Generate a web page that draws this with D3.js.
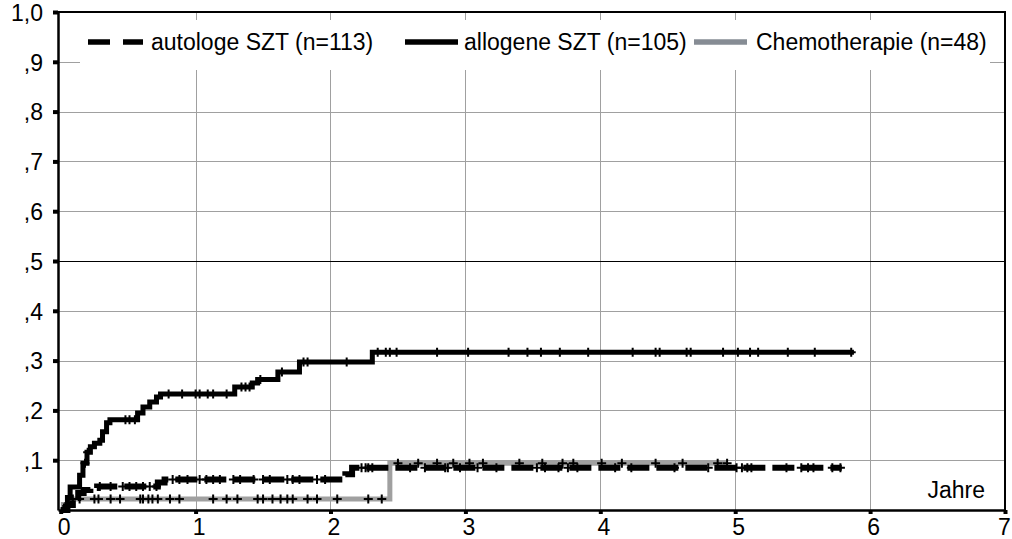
<!DOCTYPE html>
<html>
<head>
<meta charset="utf-8">
<script src="https://cdn.jsdelivr.net/npm/d3@7"></script>
<style>
  html, body { margin: 0; padding: 0; background: #fff; }
  svg { display: block; font-family: "Liberation Sans", Arial, sans-serif; }
</style>
</head>
<body>
<div id="chart"></div>
<script>

/*******************************/
/*          The data           */
/*******************************/
const xTicks = [0, 1, 2, 3, 4, 5, 6, 7];
const yTicks = [0.1, 0.2, 0.3, 0.4, 0.5, 0.6, 0.7, 0.8, 0.9, 1.0];
const yTickLabels = [",1", ",2", ",3", ",4", ",5", ",6", ",7", ",8", ",9", "1,0"];
const xAxisTitle = "Jahre";

// autologe SZT
const autoTimes  = [0, 0.05, 0.09, 0.13, 0.17, 0.22, 0.27, 0.72, 0.77, 2.11, 2.16];
const autoValues = [0, 0.01, 0.024, 0.034, 0.04, 0.044, 0.047, 0.055, 0.061, 0.072, 0.085];
const autoEnd = 5.79;
const autoCensored = [0.29, 0.37, 0.46, 0.51, 0.56, 0.61, 0.66, 0.71,
  0.83, 0.88, 0.94, 1.03, 1.08, 1.13, 1.18, 1.28, 1.33, 1.43, 1.50, 1.55, 1.68, 1.72, 1.77, 1.90, 1.96,
  2.23, 2.26, 2.28, 2.31, 2.59, 2.70, 2.85, 2.87, 2.96, 3.09, 3.23, 3.53, 3.59, 3.69,
  3.76, 3.83, 4.11, 4.23, 4.55, 4.80, 5.01, 5.05, 5.09, 5.12, 5.38, 5.49, 5.54, 5.58, 5.72, 5.78];

// allogene SZT
const alloTimes  = [0, 0.03, 0.05, 0.07, 0.14, 0.165, 0.195, 0.22, 0.25, 0.29, 0.31, 0.34, 0.365,
  0.57, 0.61, 0.66, 0.71, 0.74, 1.29, 1.42, 1.46, 1.61, 1.77, 2.31];
const alloValues = [0, 0.005, 0.025, 0.046, 0.07, 0.094, 0.116, 0.127, 0.134, 0.14, 0.157, 0.175, 0.181,
  0.195, 0.207, 0.217, 0.227, 0.233, 0.247, 0.255, 0.262, 0.277, 0.297, 0.317];
const alloEnd = 5.88;
const alloCensored = [0.18, 0.20, 0.48, 0.51, 0.55, 0.80, 0.90, 1.00, 1.03, 1.09, 1.13, 1.23,
  1.34, 1.37, 1.40, 1.48, 1.64, 1.80, 1.83, 2.12,
  2.35, 2.41, 2.44, 2.49, 2.79, 3.02, 3.32, 3.46, 3.56, 3.70, 3.91, 4.24, 4.41, 4.44,
  4.64, 4.67, 4.91, 5.02, 5.11, 5.17, 5.39, 5.59, 5.86];

// Chemotherapie
const chemoTimes  = [0, 0.02, 0.06, 2.44];
const chemoValues = [0, 0.011, 0.022, 0.094];
const chemoEnd = 4.94;
const chemoCensored = [0.05, 0.09, 0.14, 0.25, 0.28, 0.37, 0.44, 0.59, 0.61, 0.65, 0.68, 0.72,
  0.81, 0.88, 1.13, 1.23, 1.31, 1.46, 1.50, 1.57, 1.63, 1.68, 1.72, 1.83, 1.90, 2.05, 2.28, 2.38,
  2.50, 2.65, 2.79, 2.91, 3.03, 3.13, 3.40, 3.57, 3.72, 3.80, 4.01, 4.16, 4.41, 4.61, 4.87, 4.94];

const series = [
  {name: "autologe SZT (n=113)", times: autoTimes, values: autoValues, end: autoEnd, censored: autoCensored,
   color: "#000", width: 6, dash: "22,7", legendDash: "22,13", legendColor: "#000"},
  {name: "allogene SZT (n=105)", times: alloTimes, values: alloValues, end: alloEnd, censored: alloCensored,
   color: "#000", width: 5, dash: null, legendDash: null, legendColor: "#000"},
  {name: "Chemotherapie (n=48)", times: chemoTimes, values: chemoValues, end: chemoEnd, censored: chemoCensored,
   color: "#a0a0a0", width: 5, dash: null, legendDash: null, legendColor: "#868c94"},
];


/*******************************/
/*    Declare the constants    */
/*******************************/
const width = 1012;
const height = 539;
const plot = {left: 58, right: 1005, top: 12, bottom: 510};
const fontSize = 23;

const svg = d3.select("#chart")
  .append("svg")
    .attr("width", width)
    .attr("height", height);

const xScale = d3.scaleLinear()
  .domain([-0.02, 7])
  .range([plot.left, plot.right]);

const yScale = d3.scaleLinear()
  .domain([0, 1])
  .range([plot.bottom, plot.top]);


/*******************************/
/*          Grid lines         */
/*******************************/
svg.append("g")
  .selectAll("line")
  .data(xTicks.filter(d => d > 0 && d < 7))
  .join("line")
    .attr("x1", d => Math.round(xScale(d)) + 0.5)
    .attr("x2", d => Math.round(xScale(d)) + 0.5)
    .attr("y1", plot.top)
    .attr("y2", plot.bottom)
    .attr("stroke", "#a0a0a0")
    .attr("stroke-width", 1);

svg.append("g")
  .selectAll("line")
  .data(yTicks.filter(d => d < 1))
  .join("line")
    .attr("x1", plot.left)
    .attr("x2", plot.right)
    .attr("y1", d => Math.round(yScale(d)) + 0.5)
    .attr("y2", d => Math.round(yScale(d)) + 0.5)
    .attr("stroke", d => d === 0.5 ? "#000" : "#a0a0a0")
    .attr("stroke-width", 1);


/*******************************/
/*           Legend            */
/*******************************/
svg.append("rect")
  .attr("x", 80)
  .attr("y", 20)
  .attr("width", 910)
  .attr("height", 50)
  .attr("fill", "#fff");

const legendPos = [{x1: 88, x2: 143, tx: 151}, {x1: 405, x2: 458, tx: 464}, {x1: 694, x2: 747, tx: 756}];
const legend = svg.append("g");
series.forEach((s, i) => {
  const p = legendPos[i];
  legend.append("line")
    .attr("x1", p.x1).attr("x2", p.x2)
    .attr("y1", 42).attr("y2", 42)
    .attr("stroke", s.legendColor)
    .attr("stroke-width", 5.5)
    .attr("stroke-dasharray", s.legendDash);
  legend.append("text")
    .attr("x", p.tx)
    .attr("y", 50)
    .attr("font-size", fontSize)
    .attr("fill", "#000")
    .text(s.name);
});


/*******************************/
/*        Step curves          */
/*******************************/
const stepLine = d3.line()
  .x(d => xScale(d[0]))
  .y(d => yScale(d[1]))
  .curve(d3.curveStepAfter);

const valueAt = (s, t) => s.values[d3.bisectRight(s.times, t) - 1];

// draw grey first, then the black curves on top
[series[2], series[0], series[1]].forEach(s => {
  const pts = s.times.map((t, i) => [t, s.values[i]]);
  pts.push([s.end, s.values[s.values.length - 1]]);
  svg.append("path")
    .attr("d", stepLine(pts))
    .attr("fill", "none")
    .attr("stroke", s.color)
    .attr("stroke-width", s.width)
    .attr("stroke-dasharray", s.dash);
});

// censor marks
series.forEach(s => {
  svg.append("g")
    .selectAll("path")
    .data(s.censored)
    .join("path")
      .attr("d", t => {
        const cx = xScale(t), cy = yScale(valueAt(s, t));
        return `M${cx - 4.5},${cy}H${cx + 4.5}M${cx},${cy - 4.5}V${cy + 4.5}`;
      })
      .attr("stroke", "#000")
      .attr("stroke-width", 2)
      .attr("fill", "none");
});


/*******************************/
/*        Frame and axes       */
/*******************************/
svg.append("line")
  .attr("x1", plot.left).attr("x2", plot.right + 1)
  .attr("y1", plot.top).attr("y2", plot.top)
  .attr("stroke", "#000").attr("stroke-width", 2);
svg.append("line")
  .attr("x1", plot.right).attr("x2", plot.right)
  .attr("y1", plot.top).attr("y2", plot.bottom)
  .attr("stroke", "#000").attr("stroke-width", 2);

const leftAxis = d3.axisLeft(yScale)
  .tickValues(yTicks)
  .tickFormat((d, i) => yTickLabels[i])
  .tickSize(5)
  .tickSizeOuter(0)
  .tickPadding(10);
const yAxisG = svg.append("g")
  .attr("transform", `translate(${plot.left}, 0)`)
  .call(leftAxis);
yAxisG.select(".domain").attr("stroke-width", 2.5);
yAxisG.selectAll(".tick line").attr("stroke-width", 4);
yAxisG.selectAll(".tick text")
  .attr("font-size", fontSize)
  .attr("font-family", "Liberation Sans, Arial, sans-serif")
  .attr("fill", "#000")
  .attr("dy", "0.36em");

const bottomAxis = d3.axisBottom(xScale)
  .tickValues(xTicks)
  .tickFormat(d3.format("d"))
  .tickSize(4)
  .tickSizeOuter(0)
  .tickPadding(5);
const xAxisG = svg.append("g")
  .attr("transform", `translate(0, ${plot.bottom})`)
  .call(bottomAxis);
xAxisG.select(".domain").attr("stroke-width", 2.5);
xAxisG.selectAll(".tick line").attr("stroke-width", 4);
xAxisG.selectAll(".tick text")
  .attr("font-size", fontSize)
  .attr("font-family", "Liberation Sans, Arial, sans-serif")
  .attr("fill", "#000")
  .attr("dx", d => d === 7 ? -1 : 3);

svg.append("text")
  .attr("x", 985)
  .attr("y", 498)
  .attr("text-anchor", "end")
  .attr("font-size", fontSize)
  .attr("fill", "#000")
  .text(xAxisTitle);

</script>
</body>
</html>
